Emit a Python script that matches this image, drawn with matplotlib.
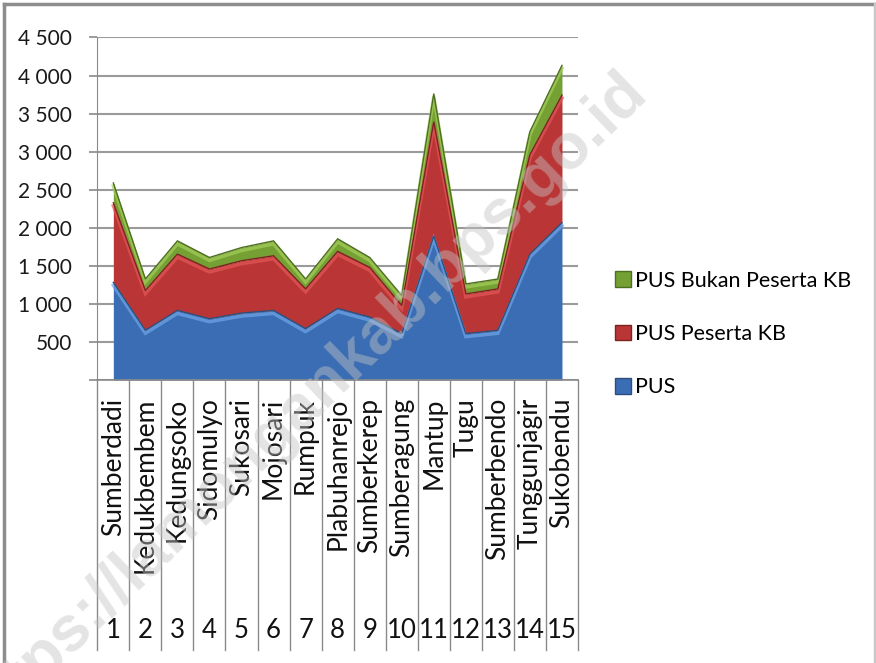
import matplotlib
matplotlib.use("Agg")
import matplotlib.pyplot as plt
import matplotlib.transforms as mtransforms
import numpy as np
from matplotlib.lines import Line2D
from matplotlib.patches import Patch

numbers = [str(i) for i in range(1, 16)]
villages = ["Sumberdadi", "Kedukbembem", "Kedungsoko", "Sidomulyo", "Sukosari",
            "Mojosari", "Rumpuk", "Plabuhanrejo", "Sumberkerep", "Sumberagung",
            "Mantup", "Tugu", "Sumberbendo", "Tunggunjagir", "Sukobendu"]
pus = [1283, 653, 914, 805, 879, 914, 675, 940, 827, 609, 1893, 609, 653, 1654, 2067]
pus_kb = [1045, 522, 740, 653, 688, 718, 522, 750, 653, 370, 1500, 522, 544, 1306, 1676]
pus_non_kb = [261, 152, 174, 152, 173, 196, 130, 165, 130, 131, 370, 131, 130, 304, 391]
series_names = ["PUS", "PUS Peserta KB", "PUS Bukan Peserta KB"]
y_ticks = list(range(0, 4501, 500))

FONT = ["Lato", "DejaVu Sans"]
plt.rcParams["font.family"] = FONT

W, H = 876, 663
fig = plt.figure(figsize=(W / 100, H / 100), dpi=100)


def fx(px):
    return px / W


def fy(py):
    return 1 - py / H


left, right, top, bottom = 97.3, 578.0, 37.5, 380.0
ax = fig.add_axes([fx(left), fy(bottom), fx(right - left), (bottom - top) / H])

x = np.arange(len(villages)) + 0.5
layers = [pus, pus_kb, pus_non_kb]
main_cols = ["#3A6DB3", "#BA3535", "#74A034"]
light_cols = ["#6FA6EA", "#E45858", "#A5D05A"]
dark_cols = ["#2B507F", "#7E2222", "#4E6E22"]

base = np.zeros(len(x))
for vals, mc, lc, dc in zip(layers, main_cols, light_cols, dark_cols):
    upper = base + np.array(vals)
    ax.fill_between(x, base, upper, color=mc, lw=0, zorder=2)
    shift = mtransforms.offset_copy(ax.transData, fig=fig, x=0, y=-3, units="dots")
    ax.plot(x, upper, color=lc, lw=2.5, alpha=0.7, transform=shift, zorder=3,
            solid_joinstyle="miter")
    ax.plot(x, upper, color=dc, lw=1.0, zorder=4, solid_joinstyle="miter")
    base = upper

ax.set_xlim(0, len(villages))
ax.set_ylim(0, 4500)
ax.set_yticks(y_ticks)
ax.set_yticklabels(["" if v == 0 else f"{v:,}".replace(",", " ") for v in y_ticks],
                   fontsize=15, color="#1a1a1a")
ax.yaxis.grid(True, color="#9a9a9a", lw=1.5)
ax.set_axisbelow(True)
ax.tick_params(axis="y", direction="out", length=6, width=1.2, color="#8a8a8a", pad=12)
ax.set_xticks([])
for s in ("top", "right"):
    ax.spines[s].set_visible(False)
ax.spines["left"].set_color("#8a8a8a")
ax.spines["bottom"].set_color("#8a8a8a")
ax.spines["bottom"].set_linewidth(1.2)

# multi-level category axis
trans = mtransforms.blended_transform_factory(ax.transData, ax.transAxes)
low = -(650 - bottom) / (bottom - top)
for b in range(len(villages) + 1):
    ax.plot([b, b], [0, low], color="#8a8a8a", lw=1.0, transform=trans, clip_on=False)
name_y = -(398 - bottom) / (bottom - top)
num_y = -(630 - bottom) / (bottom - top)
for xi, name, num in zip(x, villages, numbers):
    ax.text(xi, name_y, name, rotation=90, ha="center", va="top", fontsize=19,
            color="#111111", transform=trans)
    ax.text(xi, num_y, num, ha="center", va="center", fontsize=18.5,
            color="#111111", transform=trans)

# legend
handles = [Patch(facecolor=mc, edgecolor=dc, label=n)
           for n, mc, dc in zip(series_names, main_cols, dark_cols)][::-1]
fig.legend(handles=handles, loc="center left", bbox_to_anchor=(fx(606), fy(334)),
           frameon=False, fontsize=15.5, handlelength=0.75, handleheight=0.75,
           handletextpad=0.2, labelspacing=1.55, borderaxespad=0)

# watermark
fig.text(fx(304), fy(404), "https://lamongankab.bps.go.id", rotation=44,
         rotation_mode="anchor", ha="center", va="center", fontsize=46,
         fontweight="bold", color="#c4c4c4", alpha=0.45,
         family=["Liberation Sans", "DejaVu Sans"], zorder=10)

# outer frame
fig.add_artist(Line2D([fx(4), fx(4)], [fy(4), 0], color="#8c8c8c", lw=2.5))
fig.add_artist(Line2D([fx(4), fx(874)], [fy(4), fy(4)], color="#8c8c8c", lw=2.5))
fig.add_artist(Line2D([fx(874.5), fx(874.5)], [fy(4), 0], color="#c8c8c8", lw=2.5))

fig.savefig("out.png", dpi=100)
